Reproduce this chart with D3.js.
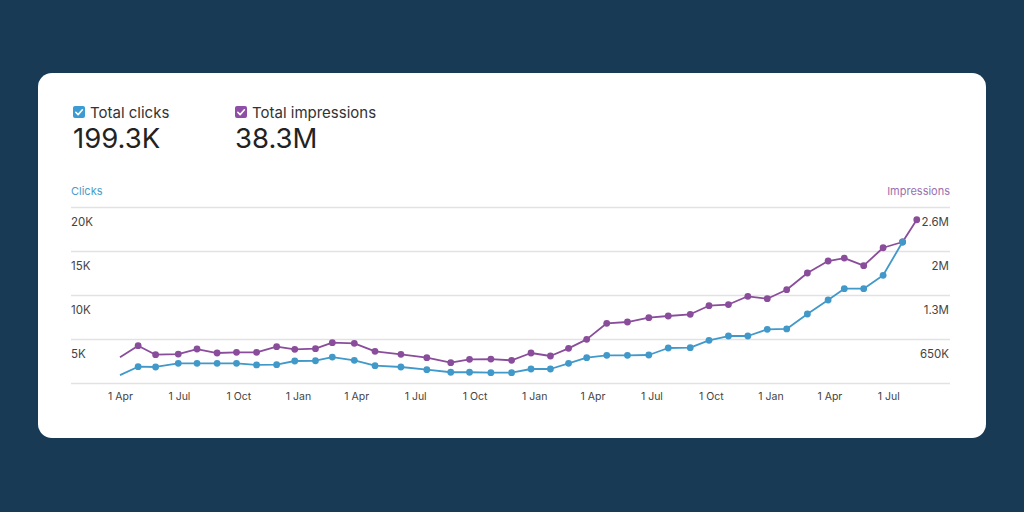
<!DOCTYPE html>
<html>
<head>
<meta charset="utf-8">
<script src="https://cdn.jsdelivr.net/npm/d3@7/dist/d3.min.js"></script>
<style>
  html, body { margin: 0; padding: 0; background: #183a55; }
  svg { display: block; }
  text { font-family: Inter, "Noto Sans", sans-serif; }
</style>
</head>
<body>
<svg id="chart" width="1024" height="512"></svg>
<script>
// ---- data ----
const dates = [
  "2021-04-01","2021-04-29","2021-05-26","2021-06-30","2021-07-29","2021-08-29",
  "2021-09-28","2021-10-29","2021-11-29","2021-12-27","2022-01-28","2022-02-23",
  "2022-03-29","2022-04-30","2022-06-09","2022-07-19","2022-08-25","2022-09-23",
  "2022-10-26","2022-11-27","2022-12-27","2023-01-26","2023-02-23","2023-03-23",
  "2023-04-23","2023-05-25","2023-06-27","2023-07-27","2023-08-30","2023-09-28",
  "2023-10-28","2023-11-27","2023-12-27","2024-01-26","2024-02-27","2024-03-30",
  "2024-04-24","2024-05-24","2024-06-23","2024-07-23","2024-08-14"
];
const clicks = [
  900, 1850, 1820, 2240, 2240, 2240, 2240, 2050, 2080, 2500, 2530, 2950,
  2580, 1970, 1820, 1510, 1220, 1220, 1170, 1170, 1590, 1590, 2240, 2880,
  3150, 3150, 3180, 3980, 4010, 4850, 5340, 5340, 6100, 6140, 7840, 9430,
  10720, 10720, 12240, 16020
];
const impressions = [
  380000, 551000, 418000, 428000, 502000, 443000, 453000, 453000, 536000, 498000,
  507000, 595000, 586000, 468000, 424000, 374000, 300000, 350000, 354000, 335000,
  443000, 399000, 512000, 645000, 882000, 901000, 965000, 990000, 1015000, 1142000,
  1159000, 1281000, 1245000, 1378000, 1625000, 1802000, 1846000, 1733000, 1998000,
  2083000, 2412000
];
const clickTicks = [5000, 10000, 15000, 20000];
const clickTickLabels = ["5K", "10K", "15K", "20K"];
const imprTicks = [650000, 1300000, 1950000, 2600000];
const imprTickLabels = ["650K", "1.3M", "2M", "2.6M"];
const summary = [
  { label: "Total clicks", value: "199.3K", color: "#3d9bd4" },
  { label: "Total impressions", value: "38.3M", color: "#8f4fa6" }
];

// ---- layout ----
const svg = d3.select("#chart");
const blue = "#4199ca", purple = "#8a4d9b";
const parse = d3.timeParse("%Y-%m-%d");
const pts = dates.map(parse);

// card
svg.append("rect").attr("x", 38).attr("y", 73).attr("width", 948).attr("height", 365)
  .attr("rx", 14).attr("fill", "#ffffff");

// summary header
const hx = [73, 235];
summary.forEach((s, i) => {
  const g = svg.append("g").attr("transform", `translate(${hx[i]},0)`);
  g.append("rect").attr("x", 0).attr("y", 106).attr("width", 12).attr("height", 12)
    .attr("rx", 2).attr("fill", s.color);
  g.append("path").attr("d", "M2.8,6.3 L5.1,8.6 L9.4,3.8")
    .attr("transform", "translate(0,106)")
    .attr("fill", "none").attr("stroke", "#fff").attr("stroke-width", 1.6)
    .attr("stroke-linecap", "round").attr("stroke-linejoin", "round");
  g.append("text").attr("x", 17).attr("y", 118).attr("font-size", 15)
    .attr("fill", "#333").text(s.label);
  g.append("text").attr("x", 0).attr("y", 148).attr("font-size", 27.5)
    .attr("fill", "#222").text(s.value);
});

// axis titles
svg.append("text").attr("x", 71).attr("y", 195).attr("font-size", 11)
  .attr("fill", "#4a9cc9").text("Clicks");
svg.append("text").attr("x", 950).attr("y", 195).attr("font-size", 11)
  .attr("text-anchor", "end").attr("fill", "#9a70b0").text("Impressions");

// scales
const x = d3.scaleTime()
  .domain([new Date(2021, 3, 1), new Date(2024, 6, 1)])
  .range([120, 888.3]);
const yL = d3.scaleLinear().domain([0, 20000]).range([383, 207]);
const yR = d3.scaleLinear().domain([0, 2600000]).range([383, 207]);

// gridlines
const grid = svg.append("g").attr("transform", "translate(950,0)")
  .call(d3.axisLeft(yL).tickValues([0].concat(clickTicks)).tickSize(879).tickFormat(""));
grid.select(".domain").remove();
grid.selectAll(".tick line").attr("stroke", "#e2e2e2").attr("stroke-width", 1.5);

// left labels
const la = svg.append("g").attr("transform", "translate(71,14.5)")
  .call(d3.axisRight(yL).tickValues(clickTicks).tickSize(0).tickPadding(0)
    .tickFormat((d, i) => clickTickLabels[i]));
la.select(".domain").remove();
la.selectAll("text").attr("font-size", 11.5).attr("fill", "#444")
  .style("font-family", "Inter, 'Noto Sans', sans-serif");

// right labels
const ra = svg.append("g").attr("transform", "translate(949,14.5)")
  .call(d3.axisLeft(yR).tickValues(imprTicks).tickSize(0).tickPadding(0)
    .tickFormat((d, i) => imprTickLabels[i]));
ra.select(".domain").remove();
ra.selectAll("text").attr("font-size", 11.5).attr("fill", "#444")
  .style("font-family", "Inter, 'Noto Sans', sans-serif");

// x axis
const xa = svg.append("g").attr("transform", "translate(0,383)")
  .call(d3.axisBottom(x).ticks(d3.timeMonth.every(3)).tickSize(0).tickPadding(10)
    .tickFormat(d3.timeFormat("%-d %b")));
xa.select(".domain").remove();
xa.selectAll("text").attr("font-size", 10.5).attr("fill", "#444")
  .style("font-family", "Inter, 'Noto Sans', sans-serif");

// lines
const clickData = clicks.map((v, i) => ({ d: pts[i], v }));
const imprData = impressions.map((v, i) => ({ d: pts[i], v }));

function drawSeries(data, y, color) {
  svg.append("path").datum(data)
    .attr("fill", "none").attr("stroke", color).attr("stroke-width", 1.8)
    .attr("stroke-linejoin", "round")
    .attr("d", d3.line().x(p => x(p.d)).y(p => y(p.v)));
  svg.append("g").selectAll("circle").data(data.slice(1)).join("circle")
    .attr("cx", p => x(p.d)).attr("cy", p => y(p.v)).attr("r", 3.4)
    .attr("fill", color);
}
drawSeries(imprData, yR, purple);
drawSeries(clickData, yL, blue);
</script>
</body>
</html>
